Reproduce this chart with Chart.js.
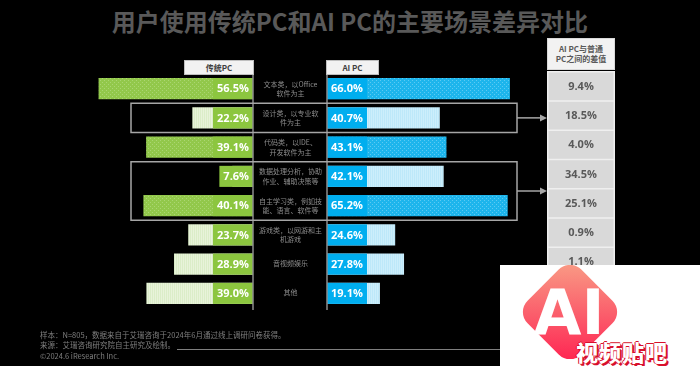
<!DOCTYPE html>
<html>
<head>
<meta charset="utf-8">
<script src="https://cdn.jsdelivr.net/npm/chart.js@4.4.1/dist/chart.umd.min.js"></script>
<style>
body { margin: 0; background: #000; }
#wrap { position: relative; width: 700px; height: 366px; background: #000; overflow: hidden;
  font-family: "Noto Sans CJK SC", "Noto Sans", sans-serif; }
canvas { position: absolute; left: 0; top: 0; }
#title { position: absolute; left: 0; top: 5px; width: 700px; text-align: center; font-size: 24px;
  line-height: 32px; font-weight: 700; color: #595959; }
.tag { position: absolute; top: 60px; height: 15px; box-sizing: border-box; background: #f2f2f2;
  border: 1px solid #bfbfbf; font-size: 8px; font-weight: 700; color: #404040; text-align: center; line-height: 13px; }
#gapHead { position: absolute; left: 547px; top: 38px; width: 68px; height: 32px; box-sizing: border-box;
  background: #f2f2f2; border: 1px solid #d9d9d9; color: #595959; font-size: 8px; font-weight: 700;
  text-align: center; line-height: 10px; padding-top: 5px; }
.cat { position: absolute; left: 255px; width: 71px; text-align: center; font-size: 7px; line-height: 9.5px;
  color: #8c8c8c; transform: translateY(-50%); white-space: nowrap; }
.note { position: absolute; left: 40px; font-size: 7.5px; line-height: 10px; color: #7f7f7f; white-space: nowrap; }
#rule { position: absolute; left: 177px; top: 349px; width: 523px; height: 1px; background: #7f7f7f; }
#wm { position: absolute; left: 500px; top: 265px; width: 200px; height: 101px; background: #fff; overflow: hidden; }
#diamond { position: absolute; left: 32px; top: 9px; width: 76px; height: 76px; border-radius: 16px;
  transform: rotate(45deg); background: linear-gradient(135deg, #f9a087 0%, #fb5a6a 55%, #ff1f4f 100%); }
#wmAI { position: absolute; left: 28px; top: 10px; width: 82px; height: 74px; display: flex; align-items: center;
  justify-content: center; font-family: "DejaVu Sans", sans-serif; font-weight: 700; font-size: 62px; color: #fff; }
#wmText { position: absolute; left: 76px; top: 70px; font-size: 22px; font-weight: 900; color: #fff; letter-spacing: 1px;
  text-shadow: 1px 1px 0 #d8102c, -1px 0 0 #d8102c, 0 -1px 0 #d8102c, 2px 2px 0 #d8102c; }
</style>
</head>
<body>
<div id="wrap">
  <div id="title">用户使用传统PC和AI PC的主要场景差异对比</div>
  <canvas id="leftChart" width="700" height="366"></canvas>
  <canvas id="rightChart" width="700" height="366"></canvas>
  <div class="tag" style="left:184px;width:70px;">传统PC</div>
  <div class="tag" style="left:326px;width:53px;">AI PC</div>
  <div id="gapHead">AI PC与普通<br>PC之间的差值</div>
  <div class="note" style="top:330px;">样本：N=805，数据来自于艾瑞咨询于2024年6月通过线上调研问卷获得。</div>
  <div class="note" style="top:340px;">来源：艾瑞咨询研究院自主研究及绘制。</div>
  <div class="note" style="top:351px;">©2024.6 iResearch Inc.</div>
  <div id="rule"></div>
  <div id="wm">
    <div id="diamond"></div>
    <div id="wmAI">AI</div>
    <div id="wmText">视频贴吧</div>
  </div>
</div>
<script>
// usage scenes (row order top to bottom)
const categories = [
    ['文本类，以Office', '软件为主'],
    ['设计类，以专业软', '件为主'],
    ['代码类，以IDE、', '开发软件为主'],
    ['数据处理分析，协助', '作业、辅助决策等'],
    ['自主学习类，例如技', '能、语言、软件等'],
    ['游戏类，以网游和主', '机游戏'],
    ['音视频娱乐'],
    ['其他']
];
const traditionalPC = [56.5, 22.2, 39.1, 7.6, 40.1, 23.7, 28.9, 39.0];
const aiPC = [66.0, 40.7, 43.1, 42.1, 65.2, 24.6, 27.8, 19.1];
const gapValues = [9.4, 18.5, 4.0, 34.5, 25.1, 0.9, 1.1, 19.9];

// rows drawn with the strong texture, the rest are pale
const strongRows = [0, 2, 4];
// rows framed and pointed at the gap column
const highlightGroups = [[1, 1], [3, 4]];

function makePattern(canvasId, base, mark, kind) {
    const tile = document.createElement('canvas');
    tile.width = kind === 'dot' ? 4 : 2;
    tile.height = 4;
    const g = tile.getContext('2d');
    g.fillStyle = base;
    g.fillRect(0, 0, tile.width, tile.height);
    g.fillStyle = mark;
    if (kind === 'dot') {
        g.fillRect(0, 0, 1, 1);
        g.fillRect(2, 2, 1, 1);
    } else {
        g.fillRect(0, 0, 1, 4);
    }
    return document.getElementById(canvasId).getContext('2d').createPattern(tile, 'repeat');
}

const greenStrong = makePattern('leftChart', '#92c84b', '#aad672', 'dot');
const greenPale = makePattern('leftChart', '#e8f3da', '#dbedc8', 'line');
const blueStrong = makePattern('rightChart', '#1db5ec', '#5ccaf3', 'dot');
const bluePale = makePattern('rightChart', '#cdeefb', '#bde8f9', 'line');

const greenFills = categories.map((c, i) => strongRows.includes(i) ? greenStrong : greenPale);
const blueFills = categories.map((c, i) => strongRows.includes(i) ? blueStrong : bluePale);

const badgePlugin = {
    id: 'badges',
    afterDatasetsDraw(chart, args, opts) {
        const ctx = chart.ctx;
        const meta = chart.getDatasetMeta(0);
        const values = chart.data.datasets[0].data;
        ctx.save();
        ctx.font = 'bold 11px "Open Sans", "Noto Sans", sans-serif';
        ctx.textAlign = 'center';
        ctx.textBaseline = 'middle';
        meta.data.forEach((bar, i) => {
            const label = values[i].toFixed(1) + '%';
            const len = Math.abs(bar.x - bar.base);
            const w = len >= 40 ? 40 : ctx.measureText(label).width + 8;
            const x0 = bar.x < bar.base ? bar.base - w : bar.base;
            ctx.fillStyle = opts.color;
            ctx.fillRect(x0, bar.y - bar.height / 2, w, bar.height);
            ctx.fillStyle = '#ffffff';
            ctx.fillText(label, x0 + w / 2, bar.y + 0.5);
        });
        const ax = chart.scales.x.getPixelForValue(0);
        ctx.strokeStyle = '#8c8c8c';
        ctx.lineWidth = 1.5;
        ctx.beginPath();
        ctx.moveTo(ax, chart.chartArea.top);
        ctx.lineTo(ax, chart.chartArea.bottom + 2);
        ctx.stroke();
        ctx.restore();
    }
};

const framePlugin = {
    id: 'frames',
    afterDatasetsDraw(chart) {
        const ctx = chart.ctx;
        const y = chart.scales.y;
        const band = y.getPixelForValue(1) - y.getPixelForValue(0);
        const colX = 547, colW = 68;
        ctx.save();
        // highlight frames and arrows
        ctx.strokeStyle = '#a6a6a6';
        ctx.fillStyle = '#a6a6a6';
        ctx.lineWidth = 1.5;
        highlightGroups.forEach(([a, b]) => {
            const top = y.getPixelForValue(a) - band / 2;
            const bottom = y.getPixelForValue(b) + band / 2;
            const mid = (top + bottom) / 2;
            ctx.strokeRect(131, top, 386, bottom - top);
            ctx.beginPath();
            ctx.moveTo(517, mid);
            ctx.lineTo(541, mid);
            ctx.stroke();
            ctx.beginPath();
            ctx.moveTo(540, mid - 3.5);
            ctx.lineTo(547, mid);
            ctx.lineTo(540, mid + 3.5);
            ctx.closePath();
            ctx.fill();
        });
        // gap column
        const first = y.getPixelForValue(0) - band / 2 - 3;
        ctx.fillStyle = '#efefef';
        ctx.fillRect(colX, first, colW, band * gapValues.length + 1);
        ctx.font = 'bold 11px "Open Sans", "Noto Sans", sans-serif';
        ctx.textAlign = 'center';
        ctx.textBaseline = 'middle';
        gapValues.forEach((v, i) => {
            const top = y.getPixelForValue(i) - band / 2 - 3;
            ctx.fillStyle = '#d9d9d9';
            ctx.fillRect(colX + 1.5, top + 1.5, colW - 3, band - 1.5);
            ctx.fillStyle = '#595959';
            ctx.fillText(v.toFixed(1) + '%', colX + colW / 2, top + band / 2 + 1);
        });
        ctx.restore();
    }
};

function barChart(id, values, fills, reverse, max, padding, badgeColor, extra) {
    return new Chart(document.getElementById(id), {
        type: 'bar',
        data: {
            labels: categories.map(c => c.join('')),
            datasets: [{
                data: values,
                backgroundColor: fills,
                borderWidth: 0,
                barPercentage: 0.72,
                categoryPercentage: 1
            }]
        },
        options: {
            indexAxis: 'y',
            responsive: false,
            animation: false,
            events: [],
            layout: { padding: padding },
            scales: {
                x: { display: false, min: 0, max: max, reverse: reverse },
                y: { display: false }
            },
            plugins: {
                legend: { display: false },
                tooltip: { enabled: false },
                title: { display: false },
                badges: { color: badgeColor }
            }
        },
        plugins: [badgePlugin].concat(extra)
    });
}

const leftChart = barChart('leftChart', traditionalPC, greenFills, true, 60,
    { left: 89, right: 447, top: 74, bottom: 58 }, '#8cc63f', []);
const rightChart = barChart('rightChart', aiPC, blueFills, false, 70,
    { left: 327, right: 179, top: 74, bottom: 58 }, '#00aeef', [framePlugin]);

// scene names between the two bar groups
const wrap = document.getElementById('wrap');
const yScale = rightChart.scales.y;
categories.forEach((lines, i) => {
    const d = document.createElement('div');
    d.className = 'cat';
    d.style.top = yScale.getPixelForValue(i) + 'px';
    d.innerHTML = lines.join('<br>');
    wrap.insertBefore(d, document.getElementById('wm'));
});
</script>
</body>
</html>
